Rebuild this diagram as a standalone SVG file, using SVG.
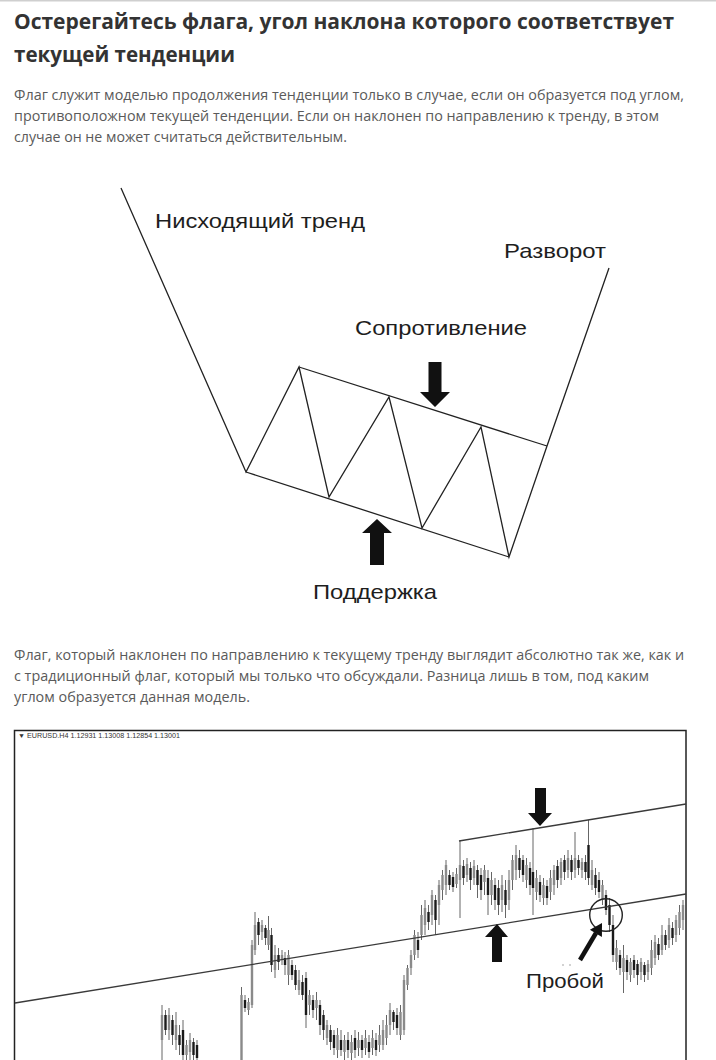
<svg xmlns="http://www.w3.org/2000/svg" width="716" height="1060" viewBox="0 0 716 1060">
<defs>
<style>
.title{font-family:"Open Sans","Liberation Sans",sans-serif;font-weight:bold;font-size:22px;fill:#333}
.para{font-family:"Open Sans","Liberation Sans",sans-serif;font-size:14.5px;fill:#5a5a5a}
.lbl{font-family:"Liberation Sans","Noto Sans",sans-serif;font-size:21px;fill:#1e1e1e}
.ln{fill:none;stroke:#222;stroke-width:1.3;stroke-linejoin:miter}
.arr{fill:#111}
.wick{fill:none;stroke:#666;stroke-width:1}
.bg{fill:none;stroke:#8a8a8a;stroke-width:2.4}
.bb{fill:none;stroke:#1a1a1a;stroke-width:2.4}
.tl{fill:none;stroke:#3a3a3a;stroke-width:1.3}
</style>
</defs>
<rect width="716" height="1060" fill="#fff"/>
<line x1="0" y1="0.7" x2="716" y2="0.7" stroke="#cfcfcf" stroke-width="1.5"/>

<g id="header">
<text class="title" x="14" y="29" textLength="660" lengthAdjust="spacingAndGlyphs">Остерегайтесь флага, угол наклона которого соответствует</text>
<text class="title" x="14" y="62" textLength="221" lengthAdjust="spacingAndGlyphs">текущей тенденции</text>
<text class="para" x="14" y="100" textLength="670" lengthAdjust="spacingAndGlyphs">Флаг служит моделью продолжения тенденции только в случае, если он образуется под углом,</text>
<text class="para" x="14" y="121" textLength="645" lengthAdjust="spacingAndGlyphs">противоположном текущей тенденции. Если он наклонен по направлению к тренду, в этом</text>
<text class="para" x="14" y="142" textLength="333" lengthAdjust="spacingAndGlyphs">случае он не может считаться действительным.</text>
</g>

<g id="flag-diagram">
<g id="connectors">
<polyline class="ln" points="121,188 246,472 299,367 329,497 389,397 422,528 481,427 509,557 547,446 609,268"/>
<line class="ln" x1="299" y1="367" x2="547" y2="446"/>
<line class="ln" x1="246" y1="472" x2="509" y2="557"/>
</g>
<g id="label-downtrend"><text class="lbl" x="155" y="228" textLength="210" lengthAdjust="spacingAndGlyphs">Нисходящий тренд</text></g>
<g id="label-reversal"><text class="lbl" x="504" y="258" textLength="102" lengthAdjust="spacingAndGlyphs">Разворот</text></g>
<g id="label-resistance"><text class="lbl" x="355" y="335" textLength="172" lengthAdjust="spacingAndGlyphs">Сопротивление</text>
<polygon class="arr" points="428.5,362 441.5,362 441.5,392 450,392 435,407 420,392 428.5,392"/></g>
<g id="label-support"><polygon class="arr" points="377,519 392,533 384,533 384,565 370,565 370,533 362,533"/>
<text class="lbl" x="313" y="599" textLength="124" lengthAdjust="spacingAndGlyphs">Поддержка</text></g>
</g>

<g id="header2">
<text class="para" x="14" y="660" textLength="670" lengthAdjust="spacingAndGlyphs">Флаг, который наклонен по направлению к текущему тренду выглядит абсолютно так же, как и</text>
<text class="para" x="14" y="681" textLength="635" lengthAdjust="spacingAndGlyphs">с традиционный флаг, который мы только что обсуждали. Разница лишь в том, под каким</text>
<text class="para" x="14" y="702" textLength="236" lengthAdjust="spacingAndGlyphs">углом образуется данная модель.</text>
</g>

<g id="chart">
<rect x="14.5" y="730.5" width="671.5" height="340" fill="#fff" stroke="#222" stroke-width="1.5"/>
<text x="18" y="738" font-family="Liberation Sans,sans-serif" font-size="6.5" fill="#333" textLength="162" lengthAdjust="spacingAndGlyphs">▼ EURUSD.H4  1.12931 1.13008 1.12854 1.13001</text>
<g id="candles">
<path class="wick" d="M162 1005V1060M165.5 1010V1035M169 1008V1040M172.5 1015V1045M176 1012V1050M179.5 1025V1055M183 1020V1060M186.5 1040V1060M190 1033V1060M193.5 1038V1060M197 1040V1060M241.5 987V1060M245 995V1012M248.5 998V1015M252 940V1008M255 912V955M258.5 918V945M262 920V940M265.5 925V945M268.5 916V950M271.5 928V972M275 945V978M278.5 948V970M282 950V965M285 952V975M288.5 950V985M292 960V980M295.5 965V990M299 970V995M302.5 975V1000M306 972V1028M309.5 990V1015M313 995V1018M316.5 992V1020M320 1000V1035M323.5 1010V1040M327 1020V1045M330.5 1025V1050M334 1030V1055M337.5 1028V1058M341 1030V1056M344.5 1035V1060M348 1032V1058M351.5 1035V1060M355 1030V1058M358.5 1032V1056M362 1035V1058M365.5 1030V1055M369 1035V1058M372.5 1030V1055M376 1033V1056M379.5 1025V1052M383 1020V1050M386.5 1015V1045M390 1003V1035M393.5 1010V1030M397 1008V1035M400.5 1005V1040M404 975V1035M407.5 965V990M411 950V975M414.5 930V960M418 932V958M421.5 905V940M425 900V935M428.5 905V930M432 890V925M435.5 895V935M439 880V925M442.5 870V900M446 860V895M449.5 870V890M453 872V892M456.5 868V888M460 841V918M463.5 860V885M467 858V882M470.5 862V890M474 860V885M477.5 865V898M481 868V900M484.5 865V895M488 870V915M491.5 872V905M495 878V910M498.5 880V915M502 875V912M505.5 880V918M509 870V910M512.5 855V890M516 845V880M519.5 850V878M523 855V882M526.5 858V888M530 862V895M533 828V915M536.5 870V900M540 875V902M543.5 878V905M547 880V905M550.5 870V900M554 865V895M557.5 860V888M561 858V885M564.5 855V880M568 850V878M571.5 855V880M575 832V878M578.5 855V875M582 858V878M585.5 855V880M588.5 820V885M592 860V890M595.5 868V895M599 872V898M602.5 880V905M606 890V915M609.5 898V932M613 915V962M616.5 940V970M620 950V975M623.5 945V993M627 955V980M630.5 958V982M634 955V978M637.5 960V985M641 958V980M644.5 962V982M648 960V980M651.5 940V975M655 935V965M658.5 938V960M662 925V955M665.5 930V950M669 918V948M672.5 922V945M676 915V942M679.5 905V935M683 900V930"/>
<path class="bg" d="M162 1015V1040M169 1015V1030M176 1025V1040M186.5 1045V1055M190 1040V1052M241.5 995V1060M248.5 1002V1010M252 945V1005M255 925V950M262 925V932M268.5 930V945M275 955V970M282 955V960M288.5 955V975M299 980V990M309.5 995V1005M316.5 1000V1008M327 1025V1038M337.5 1035V1050M344.5 1040V1052M351.5 1042V1053M358.5 1040V1048M365.5 1038V1048M372.5 1038V1048M379.5 1035V1045M383 1030V1045M386.5 1025V1038M390 1010V1025M400.5 1012V1035M404 980V1030M407.5 968V985M411 955V968M414.5 935V955M421.5 915V935M425 908V925M432 895V915M439 885V905M442.5 875V890M446 865V885M456.5 874V884M460 865V880M467 864V875M474 866V878M484.5 870V882M491.5 880V895M502 885V900M509 880V900M512.5 860V880M516 855V870M526.5 865V880M536.5 878V892M543.5 885V898M550.5 878V892M554 870V885M561 862V878M568 858V870M575 858V870M582 862V870M592 870V885M602.5 885V900M616.5 948V962M623.5 958V972M630.5 962V975M641 962V972M648 964V972M651.5 950V968M655 942V958M662 935V950M669 925V940M676 920V935M679.5 912V928M683 905V920"/>
<path class="bb" d="M165.5 1015V1030M172.5 1020V1035M179.5 1035V1045M183 1030V1055M193.5 1042V1055M197 1045V1058M245 1000V1008M258.5 922V935M265.5 928V938M271.5 935V965M278.5 955V962M285 958V965M292 965V975M295.5 970V985M302.5 982V995M306 978V1015M313 1000V1010M320 1005V1025M323.5 1015V1030M330.5 1030V1042M334 1035V1048M341 1040V1050M348 1040V1050M355 1038V1050M362 1040V1050M369 1042V1052M376 1040V1050M393.5 1012V1022M397 1015V1028M418 940V950M428.5 912V922M435.5 900V920M449.5 875V885M453 877V887M463.5 866V878M470.5 868V880M477.5 870V885M481 875V890M488 878V895M495 885V900M498.5 888V905M505.5 890V905M519.5 858V870M523 860V875M530 868V885M533 872V888M540 882V895M547 886V898M557.5 866V880M564.5 860V872M571.5 860V872M578.5 860V868M585.5 862V872M588.5 845V878M595.5 875V888M599 880V892M606 895V910M609.5 905V925M613 925V955M620 955V968M627 960V972M634 960V970M637.5 964V975M644.5 965V975M658.5 944V955M665.5 935V945M672.5 928V938"/>
</g>
<g id="chart-lines">
<line class="tl" x1="15" y1="1003" x2="686" y2="894"/>
<line class="tl" x1="459" y1="841" x2="686" y2="804"/>
</g>
<g id="chart-resistance-arrow"><polygon class="arr" points="535,788 546,788 546,813 552,813 540,826 528,813 535,813"/></g>
<g id="chart-support-arrow"><polygon class="arr" points="497,924 508,937 502,937 502,962 492,962 492,937 485,937"/></g>
<g id="breakout">
<circle cx="606" cy="915" r="16.3" fill="none" stroke="#222" stroke-width="1.4"/>
<line x1="580" y1="960" x2="596" y2="933" stroke="#111" stroke-width="4.5"/>
<polygon class="arr" points="602,923 601.9,936.9 589.9,929.7"/>
<circle cx="563" cy="965" r="0.8" fill="#999"/>
<circle cx="570" cy="965" r="0.8" fill="#999"/>
<text class="lbl" x="526" y="988" textLength="78" lengthAdjust="spacingAndGlyphs">Пробой</text>
</g>
</g>
</svg>
